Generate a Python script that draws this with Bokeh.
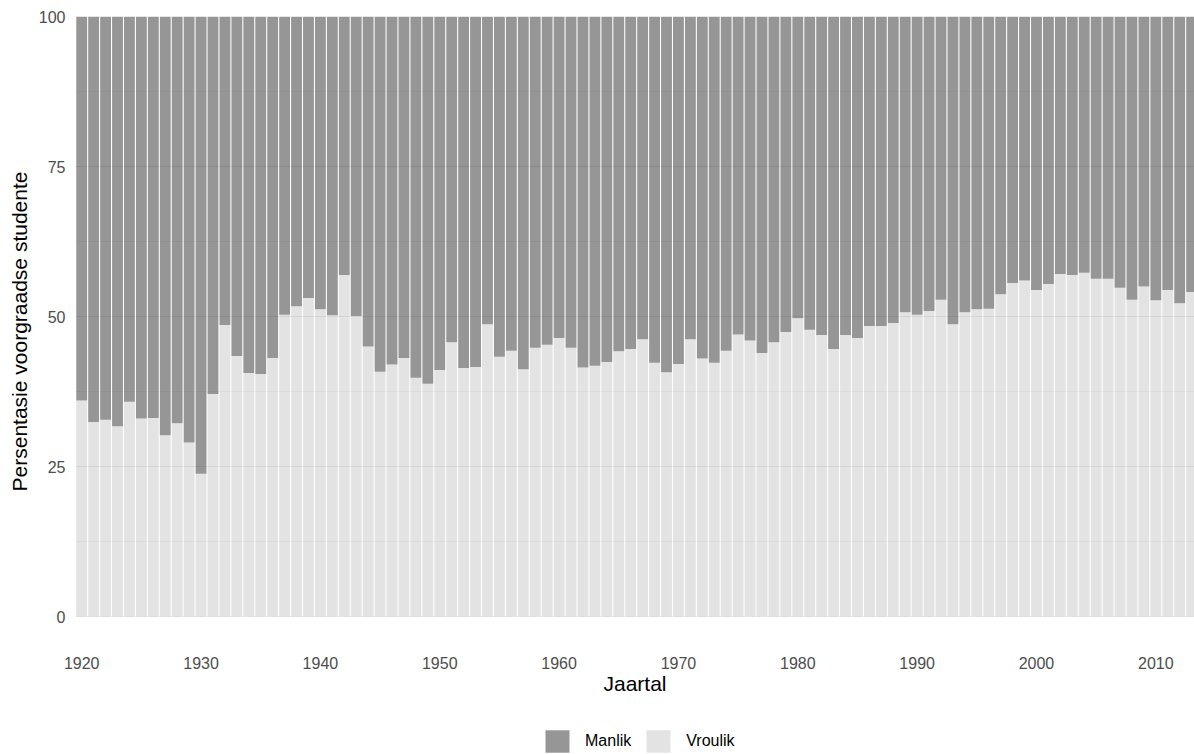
from bokeh.plotting import figure
from bokeh.layouts import column
from bokeh.models import (ColumnDataSource, Range1d, FixedTicker, Legend, LegendItem)
from bokeh.embed import file_html
from bokeh.resources import INLINE

# ---- data ----
years = list(range(1920, 2014))

vroulik = [
    36.0, 32.4, 32.8, 31.7, 35.8, 33.0, 33.1, 30.2, 32.2, 29.0,
    23.8, 37.1, 48.6, 43.4, 40.6, 40.4, 43.1, 50.3, 51.7, 53.1,
    51.2, 50.2, 56.9, 50.1, 45.0, 40.8, 42.0, 43.1, 39.8, 38.8,
    41.1, 45.7, 41.4, 41.6, 48.7, 43.3, 44.3, 41.2, 44.8, 45.3,
    46.4, 44.8, 41.5, 41.8, 42.4, 44.2, 44.6, 46.2, 42.3, 40.7,
    42.1, 46.2, 43.0, 42.3, 44.3, 47.0, 46.0, 43.9, 45.7, 47.4,
    49.7, 47.8, 46.9, 44.6, 46.9, 46.4, 48.4, 48.4, 48.9, 50.7,
    50.3, 50.9, 52.8, 48.7, 50.7, 51.2, 51.3, 53.7, 55.6, 56.0,
    54.4, 55.4, 57.1, 56.9, 57.3, 56.3, 56.3, 54.8, 52.8, 55.0,
    52.7, 54.4, 52.2, 54.1,
]

manlik = [
    64.0, 67.6, 67.2, 68.3, 64.2, 67.0, 66.9, 69.8, 67.8, 71.0,
    76.2, 62.9, 51.4, 56.6, 59.4, 59.6, 56.9, 49.7, 48.3, 46.9,
    48.8, 49.8, 43.1, 49.9, 55.0, 59.2, 58.0, 56.9, 60.2, 61.2,
    58.9, 54.3, 58.6, 58.4, 51.3, 56.7, 55.7, 58.8, 55.2, 54.7,
    53.6, 55.2, 58.5, 58.2, 57.6, 55.8, 55.4, 53.8, 57.7, 59.3,
    57.9, 53.8, 57.0, 57.7, 55.7, 53.0, 54.0, 56.1, 54.3, 52.6,
    50.3, 52.2, 53.1, 55.4, 53.1, 53.6, 51.6, 51.6, 51.1, 49.3,
    49.7, 49.1, 47.2, 51.3, 49.3, 48.8, 48.7, 46.3, 44.4, 44.0,
    45.6, 44.6, 42.9, 43.1, 42.7, 43.7, 43.7, 45.2, 47.2, 45.0,
    47.3, 45.6, 47.8, 45.9,
]

x_ticks = [1920, 1930, 1940, 1950, 1960, 1970, 1980, 1990, 2000, 2010]
y_ticks = [0, 25, 50, 75, 100]
y_minor = [12.5, 37.5, 62.5, 87.5]

series_names = ["Vroulik", "Manlik"]
DARK = "#969696"
LIGHT = "#e3e3e3"
FONT = "Liberation Sans"

source = ColumnDataSource(data=dict(year=years, Vroulik=vroulik, Manlik=manlik))

# ---- main chart ----
p = figure(width=1194, height=715, output_backend="svg", toolbar_location=None,
           x_range=Range1d(1919.48, 2013.24), y_range=Range1d(-5, 100),
           min_border_left=75, min_border_right=0, min_border_top=16,
           min_border_bottom=69)

renderers = p.vbar_stack(series_names, x="year", width=0.91, source=source,
                         fill_color=[LIGHT, DARK], line_color=None)

p.outline_line_color = None
p.background_fill_color = "white"

p.xgrid.visible = False
p.ygrid.ticker = FixedTicker(ticks=y_ticks, minor_ticks=y_minor)
p.ygrid.grid_line_color = "black"
p.ygrid.grid_line_alpha = 0.07
p.ygrid.minor_grid_line_color = "black"
p.ygrid.minor_grid_line_alpha = 0.035
p.ygrid.level = "overlay"

for ax in (p.xaxis[0], p.yaxis[0]):
    ax.axis_line_color = None
    ax.major_tick_line_color = None
    ax.minor_tick_line_color = None
    ax.major_tick_out = 0
    ax.major_tick_in = 0
    ax.minor_tick_out = 0
    ax.minor_tick_in = 0
    ax.major_label_text_font = FONT
    ax.major_label_text_font_size = "16px"
    ax.major_label_text_color = "#4d4d4d"
    ax.axis_label_text_font = FONT
    ax.axis_label_text_font_size = "21px"
    ax.axis_label_text_font_style = "normal"
    ax.axis_label_text_color = "black"

p.xaxis.ticker = FixedTicker(ticks=x_ticks, minor_ticks=[])
p.yaxis.ticker = FixedTicker(ticks=y_ticks, minor_ticks=[])
p.xaxis.axis_label = "Jaartal"
p.yaxis.axis_label = "Persentasie voorgraadse studente"
p.xaxis.major_label_standoff = 10
p.xaxis.axis_label_standoff = 0
p.yaxis.major_label_standoff = 10
p.yaxis.axis_label_standoff = 5

# ---- legend strip ----
lg = figure(width=1194, height=39, output_backend="svg", toolbar_location=None,
            x_range=Range1d(0, 1), y_range=Range1d(0, 1),
            x_axis_type=None, y_axis_type=None,
            min_border_left=0, min_border_right=0, min_border_top=0,
            min_border_bottom=0)
lg.outline_line_color = None
lg.xgrid.visible = False
lg.ygrid.visible = False
# same series, drawn outside this strip's visible range; only used for legend keys
leg_r = lg.vbar_stack(series_names, x="year", width=0.91, source=source,
                      fill_color=[LIGHT, DARK], line_color=None)

legend = Legend(items=[LegendItem(label="Manlik", renderers=[leg_r[1]]),
                       LegendItem(label="Vroulik", renderers=[leg_r[0]])],
                orientation="horizontal", location=(467, -1),
                padding=0, margin=0, spacing=12,
                glyph_width=30, glyph_height=28, label_height=28,
                label_standoff=13, label_text_font=FONT,
                label_text_font_size="16px", label_text_color="black",
                border_line_color=None, background_fill_alpha=0)
lg.add_layout(legend, "center")

layout = column(p, lg, spacing=0)

open("out.html", "w").write(file_html(layout, INLINE))
